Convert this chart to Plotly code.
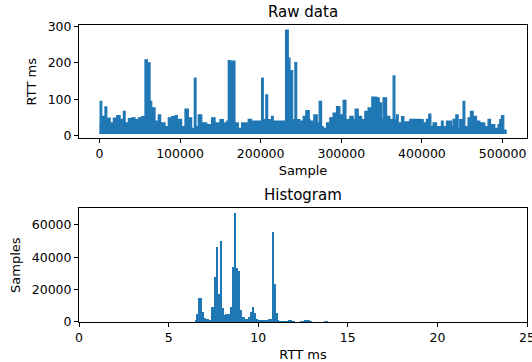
import plotly.graph_objects as go

# ---- Raw data (peak envelope of the RTT trace) ----
raw_sample = [0, 1000, 2900, 7000, 9100, 13300, 17400, 21500, 25700, 29800, 31900, 36000,
              40100, 44200, 48400, 52500, 56600, 59500, 62800, 64900, 69000, 73100, 76000,
              81400, 85500, 89700, 93800, 96700, 102000, 106200, 110300, 114400, 117800,
              119800, 122700, 126900, 133100, 139300, 143400, 149500, 153700, 157800,
              159900, 163000, 164800, 168100, 172200, 176400, 184600, 188800, 201200,
              203200, 206500, 208600, 213600, 215600, 230900, 234200, 236300, 237100,
              239600, 242500, 244600, 248700, 252800, 256100, 260200, 261100, 266000,
              270100, 272600, 275500, 277600, 281700, 285800, 289900, 294100, 298200,
              302300, 305700, 310600, 314700, 317200, 320900, 325100, 329200, 333300,
              337900, 343700, 346900, 349900, 351900, 356100, 360200, 364300, 366400,
              368500, 370500, 374700, 377500, 385000, 397400, 401500, 405600, 408500,
              411000, 413800, 418000, 424200, 426200, 430400, 436600, 438600, 442000,
              444800, 446900, 451000, 453100, 457200, 460200, 463400, 467600, 471700,
              477900, 482000, 485000, 490300, 494400, 496500, 498600, 501400, 505000]
raw_peak = [30, 94, 53, 79, 48, 35, 48, 55, 45, 67, 35, 47,
            49, 44, 49, 52, 208, 200, 94, 76, 40, 57, 35,
            25, 49, 52, 55, 45, 25, 73, 49, 20, 158,
            25, 57, 35, 30, 49, 35, 44, 35, 40,
            206, 200, 205, 35, 20, 35, 45, 40, 158,
            44, 112, 44, 53, 40, 290, 213, 44, 179,
            44, 201, 44, 40, 53, 69, 44, 40, 57,
            35, 94, 25, 20, 35, 49, 62, 80, 57,
            97, 44, 53, 44, 73, 53, 44, 67, 76,
            106, 104, 90, 44, 104, 53, 44, 164, 44,
            57, 35, 52, 38, 45, 44, 35, 45, 59,
            25, 35, 25, 40, 25, 40, 25, 45, 57,
            20, 44, 94, 25, 49, 67, 53, 40, 35,
            25, 45, 30, 20, 30, 44, 55, 15, 15]
raw_floor = 6.5

# ---- Histogram (0.1 ms bins) ----
hist_left = [6.48, 6.58, 6.68, 6.78, 6.88, 6.98, 7.08, 7.18, 7.28, 7.38, 7.48, 7.58,
             7.68, 7.78, 7.88, 7.98, 8.08, 8.18, 8.28, 8.38, 8.48, 8.58, 8.68, 8.78,
             8.88, 8.98, 9.08, 9.18, 9.28, 9.38, 9.48, 9.58, 9.68, 9.78, 9.88, 9.98,
             10.08, 10.18, 10.28, 10.38, 10.48, 10.58, 10.68, 10.78, 10.88, 10.98,
             11.08, 11.18, 11.28, 11.38, 11.48, 11.58, 11.68, 11.78, 11.88, 11.98,
             12.38, 12.48, 12.58, 12.68, 12.78, 12.88, 13.68, 13.78]
hist_count = [1000, 4500, 15000, 15000, 6200, 2600, 1800, 1500, 800, 9300, 9300, 27500,
              46000, 17000, 50000, 8500, 4000, 4500, 5000, 5000, 9000, 34000, 67000, 33000,
              31500, 7300, 3100, 3000, 2000, 2000, 3000, 6200, 9300, 5200, 2000, 1000,
              700, 600, 600, 700, 1000, 1500, 2000, 55300, 23400, 5200,
              1000, 300, 200, 100, 100, 200, 1000, 800, 200, 100,
              400, 300, 500, 500, 600, 300, 400, 300]
bin_width = 0.1

blue = "#1f77b4"
tick_font = dict(family="DejaVu Sans", size=12.5, color="black")
label_font = dict(family="DejaVu Sans", size=13, color="black")
title_font = dict(family="DejaVu Sans", size=15, color="black")

fig = go.Figure()
fig.add_trace(go.Scatter(x=[raw_sample[0], raw_sample[-1]], y=[raw_floor, raw_floor],
                         mode="lines", line=dict(color=blue, width=1.3),
                         xaxis="x", yaxis="y", showlegend=False, hoverinfo="skip"))
fig.add_trace(go.Scatter(x=raw_sample, y=raw_peak, mode="lines",
                         line=dict(color=blue, width=1.3, shape="hv"),
                         fill="tonexty", fillcolor=blue,
                         xaxis="x", yaxis="y", showlegend=False))
fig.add_trace(go.Bar(x=[l + bin_width / 2 for l in hist_left], y=hist_count,
                     width=bin_width, marker=dict(color=blue, line=dict(width=0)),
                     xaxis="x2", yaxis="y2", showlegend=False))

axis_common = dict(showline=True, mirror=True, linecolor="black", linewidth=1,
                   ticks="outside", ticklen=4, tickcolor="black", showgrid=False,
                   zeroline=False, tickfont=tick_font, automargin=False,
                   ticklabeloverflow="allow")

fig.update_layout(
    width=532, height=362, autosize=False,
    margin=dict(l=79, r=5, t=25, b=40),
    paper_bgcolor="white", plot_bgcolor="white",
    font=tick_font, bargap=0,
    xaxis=dict(domain=[0, 1], anchor="y", range=[-25250, 530250],
               tickvals=[0, 100000, 200000, 300000, 400000, 500000],
               ticktext=["0", "100000", "200000", "300000", "400000", "500000"],
               title=dict(text="Sample", font=label_font, standoff=5), **axis_common),
    yaxis=dict(domain=[0.618, 1], anchor="x", range=[-7.7, 304.3],
               tickvals=[0, 100, 200, 300],
               title=dict(text="RTT ms", font=label_font, standoff=8), **axis_common),
    xaxis2=dict(domain=[0, 1], anchor="y2", range=[0, 25],
                tickvals=[0, 5, 10, 15, 20, 25],
                title=dict(text="RTT ms", font=label_font, standoff=5), **axis_common),
    yaxis2=dict(domain=[0, 0.383], anchor="x2", range=[0, 70350],
                tickvals=[0, 20000, 40000, 60000],
                ticktext=["0", "20000", "40000", "60000"],
                title=dict(text="Samples", font=label_font, standoff=8), **axis_common),
    annotations=[
        dict(text="Raw data", x=0.5, y=1, xref="paper", yref="paper",
             xanchor="center", yanchor="bottom", yshift=2, showarrow=False,
             font=title_font),
        dict(text="Histogram", x=0.5, y=0.383, xref="paper", yref="paper",
             xanchor="center", yanchor="bottom", yshift=2, showarrow=False,
             font=title_font),
    ],
)

fig.write_html("out.html", config={"displayModeBar": False},
               post_script="document.body.style.margin='0';document.body.style.overflow='hidden';")
